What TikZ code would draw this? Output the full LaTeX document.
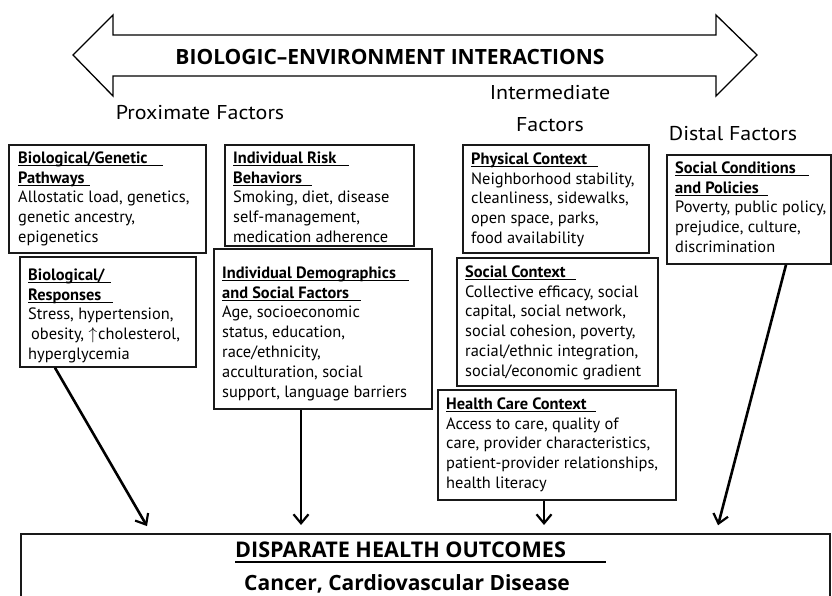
\documentclass[tikz,border=0pt]{standalone}
\usepackage{fontspec}
\setmainfont{PT Sans}
\newfontfamily\labfont[FakeStretch=1.1]{PT Sans}
\newfontfamily\bigfont{Open Sans}
\usetikzlibrary{arrows.meta,calc}
\newcommand\hd[2][10pt]{\setbox0\hbox{\bfseries #2\hspace{#1}}\rlap{\rule[-3.2pt]{\wd0}{1.6pt}}\box0}
\newcommand\fl{\rule{0pt}{14pt}}
\newcommand\uparr{\smash{$\uparrow$}\hspace{1pt}}
\tikzset{
  box/.style={draw=black!90, line width=1.8pt, rectangle, inner sep=0pt, anchor=north west},
  txt/.style={anchor=north west, inner sep=0pt, align=left, font=\fontsize{16.4}{19.8}\selectfont},
  lbl/.style={inner sep=0pt, font=\labfont\fontsize{20}{32}\selectfont, align=center},
  big/.style={inner sep=0pt, font=\bigfont\bfseries\fontsize{21}{24}\selectfont},
  conn/.style={line width=2.6pt, shorten >=8pt, -{Straight Barb[length=9pt,width=15pt,line width=2.2pt]}},
}
\begin{document}
\begin{tikzpicture}[x=1pt,y=-1pt]
\clip (0,0) rectangle (832,596);
\fill[white] (0,0) rectangle (832,596);
% big double arrow
\draw[line width=1.3pt, line join=miter] (73,55) -- (113,15) -- (113,35) -- (716,35) -- (716,15) -- (757,55)
  -- (716,96) -- (716,76) -- (113,76) -- (113,96) -- cycle;
\node[big] (title) at (390,57) {BIOLOGIC–ENVIRONMENT INTERACTIONS};
\node[lbl] (prox) at (200,113) {Proximate Factors};
\node[lbl] (inter) at (550,109) {Intermediate\\Factors};
\node[lbl] (dist) at (733,134) {Distal Factors};
% boxes
\node[box, minimum width=197pt, minimum height=108pt] (b1) at (8,144) {};
\node[box, minimum width=176pt, minimum height=110pt] (b2) at (19,256) {};
\node[box, minimum width=189pt, minimum height=101pt] (b3) at (224,144) {};
\node[box, minimum width=218pt, minimum height=160pt] (b4) at (213,248) {};
\node[box, minimum width=186pt, minimum height=108pt] (b5) at (462,144) {};
\node[box, minimum width=201pt, minimum height=128pt] (b6) at (456,257) {};
\node[box, minimum width=238pt, minimum height=110pt] (b7) at (437,389) {};
\node[box, minimum width=164pt, minimum height=109pt] (b8) at (666,154) {};
\node[box, minimum width=809pt, minimum height=90pt] (out) at (20,533) {};
% texts
\node[txt] (t1) at (18,149) {\fl\hd[15pt]{Biological/Genetic}\\\hd[5pt]{Pathways}\\Allostatic load, genetics,\\genetic ancestry,\\epigenetics};
\node[txt] (t2) at (28,266) {\fl\hd[6pt]{Biological/}\\\hd[12pt]{Responses}\\Stress, hypertension,\\\hspace{3pt}obesity, \uparr cholesterol,\\hyperglycemia};
\node[txt] (t3) at (233,149) {\fl\hd[13pt]{Individual Risk}\\\hd{Behaviors}\\Smoking, diet, disease\\self-management,\\medication adherence};
\node[txt] (t4) at (222,264) {\fl\hd[13pt]{Individual Demographics}\\\hd[12pt]{and Social Factors}\\Age, socioeconomic\\status, education,\\race/ethnicity,\\acculturation, social\\support, language barriers};
\node[txt] (t5) at (471,150) {\fl\hd[11pt]{Physical Context}\\Neighborhood stability,\\cleanliness, sidewalks,\\open space, parks,\\food availability};
\node[txt] (t6) at (465,263) {\fl\hd{Social Context}\\Collective efficacy, social\\capital, social network,\\social cohesion, poverty,\\racial/ethnic integration,\\social/economic gradient};
\node[txt] (t7) at (446,395) {\fl\hd[9pt]{Health Care Context}\\Access to care, quality of\\care, provider characteristics,\\patient-provider relationships,\\health literacy};
\node[txt] (t8) at (675,159) {\fl\hd[13pt]{Social Conditions}\\\hd[9pt]{and Policies}\\Poverty, public policy,\\prejudice, culture,\\discrimination};
\node[big, anchor=base west, font=\bigfont\bfseries\fontsize{21.6}{24}\selectfont] (o1) at (235,557) {\setbox0\hbox{DISPARATE HEALTH OUTCOMES\hspace{40pt}}\rlap{\rule[-5.5pt]{\wd0}{2pt}}\box0};
\node[big, anchor=base west] (o2) at (244,590) {Cancer, Cardiovascular Disease};
% connectors
\draw[conn] ([xshift=36pt]b2.south west) -- ([xshift=131pt]out.north west);
\draw[conn] ([xshift=88pt]b4.south west) -- ([xshift=281pt]out.north west);
\draw[conn] ([xshift=107pt]b7.south west) -- ([xshift=107pt]b7.south west |- out.north);
\draw[conn] ([xshift=120pt]b8.south west) -- ([xshift=696pt]out.north west);
\end{tikzpicture}
\end{document}
